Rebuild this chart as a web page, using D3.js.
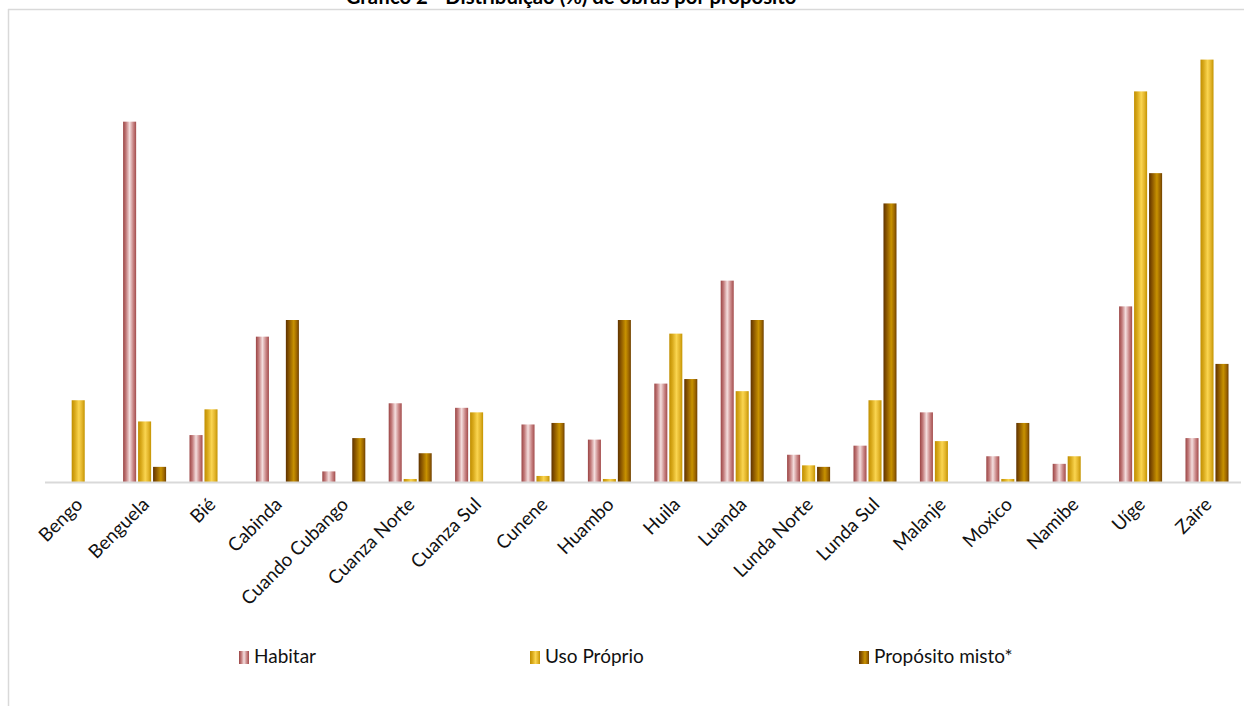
<!DOCTYPE html>
<html>
<head>
<meta charset="utf-8">
<script src="https://cdn.jsdelivr.net/npm/d3@7"></script>
<style>
  html, body { margin: 0; padding: 0; background: #fff; }
  svg { display: block; font-family: Lato, "Open Sans", sans-serif; }
</style>
</head>
<body>
<svg id="chart" width="1244" height="706"></svg>
<script>
// Provinces (categories)
const provinces = ["Bengo", "Benguela", "Bié", "Cabinda", "Cuando Cubango", "Cuanza Norte",
  "Cuanza Sul", "Cunene", "Huambo", "Huila", "Luanda", "Lunda Norte", "Lunda Sul",
  "Malanje", "Moxico", "Namibe", "Uíge", "Zaire"];

// Share (%) of works per purpose, by province
const habitar = [0, 23.8, 3.1, 9.6, 0.7, 5.2, 4.9, 3.8, 2.8, 6.5, 13.3, 1.8, 2.4, 4.6, 1.7, 1.2, 11.6, 2.9];
const usoProprio = [5.4, 4.0, 4.8, 0, 0, 0.2, 4.6, 0.4, 0.2, 9.8, 6.0, 1.1, 5.4, 2.7, 0.2, 1.7, 25.8, 27.9];
const propositoMisto = [0, 1.0, 0, 10.7, 2.9, 1.9, 0, 3.9, 10.7, 6.8, 10.7, 1.0, 18.4, 0, 3.9, 0, 20.4, 7.8];

const seriesNames = ["Habitar", "Uso Próprio", "Propósito misto*"];
const seriesValues = [habitar, usoProprio, propositoMisto];
const titleText = "Gráfico 2 - Distribuição (%) de obras por propósito";

const svg = d3.select("#chart");

// Horizontal "cylinder" gradients for each series
const gradStops = [
  [["0%", "#9a4444"], ["22%", "#c27a7a"], ["50%", "#f4dede"], ["78%", "#c88484"], ["100%", "#a34c4c"]],
  [["0%", "#c08e00"], ["25%", "#d9aa1c"], ["55%", "#fad550"], ["80%", "#e2b42a"], ["100%", "#c49400"]],
  [["0%", "#5e3200"], ["25%", "#8c5800"], ["60%", "#c89200"], ["85%", "#9a6400"], ["100%", "#6e4000"]]
];
const defs = svg.append("defs");
gradStops.forEach((stops, i) => {
  const g = defs.append("linearGradient").attr("id", "grad" + i)
    .attr("x1", "0%").attr("x2", "100%").attr("y1", "0%").attr("y2", "0%");
  stops.forEach(([o, c]) => g.append("stop").attr("offset", o).attr("stop-color", c));
});

// Chart frame edges
svg.append("line").attr("x1", 8.5).attr("x2", 8.5).attr("y1", 9).attr("y2", 706)
  .attr("stroke", "#d9d9d9").attr("stroke-width", 1.5);
svg.append("line").attr("x1", 8).attr("x2", 1244).attr("y1", 9.5).attr("y2", 9.5)
  .attr("stroke", "#d9d9d9").attr("stroke-width", 1.5);

// Title
svg.append("text").attr("x", 571).attr("y", 4).attr("text-anchor", "middle")
  .attr("font-weight", "bold").attr("font-size", 20.3).attr("fill", "#000")
  .text(titleText);

// Scales
const baseY = 482;
const x0 = d3.scaleBand().domain(provinces).range([45, 1240.2]).paddingInner(0).paddingOuter(0);
const y = d3.scaleLinear().domain([0, 30]).range([baseY, baseY - 30 * 15.14]);
const x1 = d3.scaleBand().domain(d3.range(3)).range([0, 43]).paddingInner(0.13);

// Bars
const groups = svg.append("g").selectAll("g").data(provinces).join("g")
  .attr("transform", d => `translate(${x0(d) + x0.bandwidth() / 2 - 21.5},0)`);
groups.selectAll("rect")
  .data((d, i) => seriesValues.map((vals, s) => ({ s, v: vals[i] })))
  .join("rect")
  .filter(d => d.v > 0)
  .attr("x", d => x1(d.s))
  .attr("width", x1.bandwidth())
  .attr("y", d => y(d.v))
  .attr("height", d => baseY - y(d.v))
  .attr("fill", d => `url(#grad${d.s})`);

// Category axis
svg.append("line").attr("x1", 45).attr("x2", 1241).attr("y1", baseY + 0.5).attr("y2", baseY + 0.5)
  .attr("stroke", "#d9d9d9").attr("stroke-width", 2);
const xAxis = d3.axisBottom(x0).tickSize(0).tickPadding(0);
const ax = svg.append("g").attr("transform", `translate(0,${baseY})`).call(xAxis);
ax.select(".domain").remove();
ax.selectAll("text")
  .attr("font-size", 18.8).attr("font-family", "Lato, 'Open Sans', sans-serif").attr("fill", "#111")
  .attr("text-anchor", "end")
  .attr("dy", "0.35em")
  .attr("transform", "translate(1,19) rotate(-45)");

// Legend
const legendX = [239, 530, 859];
const legend = svg.append("g").selectAll("g").data(seriesNames).join("g")
  .attr("transform", (d, i) => `translate(${legendX[i]},651)`);
legend.append("rect").attr("width", 10).attr("height", 13).attr("fill", (d, i) => `url(#grad${i})`);
legend.append("text").attr("x", 15).attr("y", 12).attr("font-size", 19).attr("fill", "#111")
  .text(d => d);
</script>
</body>
</html>
